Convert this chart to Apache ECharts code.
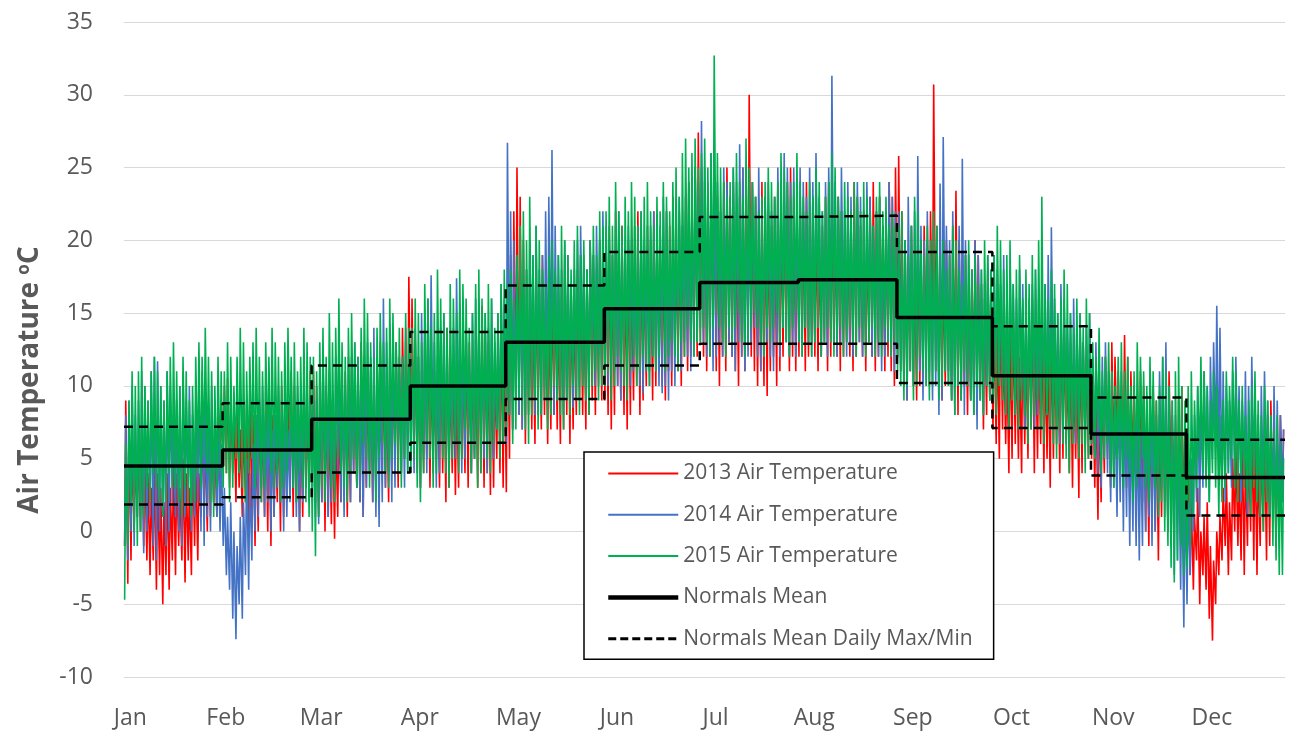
<!DOCTYPE html>
<html>
<head>
<meta charset="utf-8">
<script src="https://cdn.jsdelivr.net/npm/echarts@6/dist/echarts.min.js"></script>
<style>
  html, body { margin: 0; padding: 0; background: #fff; }
  #chart { width: 1293px; height: 736px; }
</style>
</head>
<body>
<div id="chart"></div>
<script>
// Month tick labels and their day-of-year positions
const months = ['Jan','Feb','Mar','Apr','May','Jun','Jul','Aug','Sep','Oct','Nov','Dec'];
const labelDays = [2, 32, 62, 93, 124, 155, 186, 217, 248, 279, 311, 342];
const monthStart = [0, 31, 59, 90, 120, 151, 181, 212, 243, 273, 304, 334, 365];

// Climate normals per month (°C)
const normalsMean = [4.5, 5.6, 7.7, 10.0, 13.0, 15.3, 17.1, 17.3, 14.7, 10.7, 6.7, 3.7];
const normalsMax  = [7.2, 8.8, 11.4, 13.7, 16.9, 19.2, 21.6, 21.7, 19.2, 14.1, 9.2, 6.3];
const normalsMin  = [1.85, 2.35, 4.05, 6.1, 9.1, 11.4, 12.9, 12.9, 10.2, 7.1, 3.85, 1.1];

// Daily highs / lows, one row per month
const hi2013 = [
  9,7,6,5,6,7,5,4,3,5,4,3,2,4,3,5,4,3,5,4,3,6,5,4,7,6,8,7,6,8,9,
  10,10.5,9,8,9,7,8,9,10,8,7,9,8,10,9,8,7,9,10,8,9,11,10,9,8,10,9,11,
  11,10,9,12,10,8,9,7,8,10,11,9,12,10,11,13,12,10,11,9,12,13,11,10,12,11,13,12,14,13,17.5,
  16,13,12,11,13,14,12,10,11,13,12,14,11,12,10,13,12,14,13,11,12,14,15.5,14,13,12,11,13,15,14,
  16,19,22,25,23,20,18,17,16,18,17,19,16,15,17,18,16,17,19,18,17,16,18,19,17,18,20,19,18,20,19,
  20,21,19,22,20,21,19,20,18,21,22,20,19,21,20,22,21,19,20,22,21,23,20,22,21,23,24,22,25,27.4,
  25,24,23,24,25,23,22,24,25,23,24,22,23,25,25,30,24,23,22,24,23,22,21,23,24,22,23,24,25,23,22,
  23,22,24,21,23,22,20,21,23,24,22,21,23,22,20,21,22,24,23,21,22,20,23,24,22,23,21,22,24,23,25,
  25.8,22,20,19,21,18,20,19,21,20,22,30.7,21,19,18,20,19,21,23.4,20,18,19,17,18,20,19,17,16,18,17,
  15,14,16,13,12,14,15,13,12,14,13,15,16,14,13,15,12,13,14,12,13,15,14,12,13,11,12,14,13,12,11,
  11,10,9,10,12,11,13,12,11,10,13.5,12,11,10,9,11,10,9,8,10,9,8,10,9,11,8,7,9,10,8,
  4,2,1,3,0,1,2,-1,-2,0,1,3,4,2,5,6,4,7,5,6,8,7,5,6,7,8,9,7,6,8,7
];
const lo2013 = [
  -1,-3.6,-2,0,1,0,-1,-2,-3,-2,-4,-3,-5,-3,-4,-2,-3,-1,-2,-3.5,-2,-3,-1,-2,1,2,0,1,2,1,3,
  5,4,3,4,2,3,1,2,0,1,-1,0,2,1,0,-1,1,2,0,1,2,3,1,2,0,1,3,2,
  3,2,1,2,0,1,0.5,-0.5,1,2,3,1,2,4,3,2,1,3,4,2,3,5,4,3,2,4,5,3,4,5,6,
  6,5,4,3,4,5,3,4,5,3,4,2,3,4,2.5,3,5,4,3,4,5,3,4,3,4,2.5,3,5,4,3,
  2.7,5,7,9,8,7,6,8,7,6,8,7,8,6,7,8,7,6,7,8,6,7,8,9,8,7,8,9,8,10,9,
  9,8,7,8,10,9,8,7,8,9,10,8,9,10,11,9,10,11,10,9,11,10,12,11,10,12,11,12,13,12,
  13,12,11,12,13,11,10,12,11,13,12,11,10,12,11,13,12,11,10,11,10,9.3,11,12,10,11,12,13,11,12,11,
  12,13,11,12,13,12,11,12,13,11,12,13,12,11,12,13,12,11,12,13,12,11,13,12,11,12,13,11,12,11,10,
  12,11,10,9,11,10,9,10,11,12,10,13,11,10,9,10,11,9,10,8,9,10,8,9,10,8,9,7,8,9,
  7,6,5,7,6,4,5,6,5,4,6,5,7,4,5,6,4,5,3,5,6,4,5,6,4,3,5,2.3,4,6,5,
  5,3,0.8,2,4,5,3,4,6,5,4,3,2,4,3,1,2,0,-1,1,0,-2,1,2,0,3,2,1,2,0,
  -1,-3,-4,-2,-5,-3,-4,-6,-7.5,-5,-3,-2,-1,-3,-2,0,-1,-2,-3,-1,0,-2,-3,-1,0,-2,-1,1,-1,0,2
];
const hi2014 = [
  8,9,10,8,9,11,10,9,11,12,11.7,10,9,11,10,8,9,10,11,9,10,8,9,10,11,9,8,10,9,7,6,
  3,1,2,0,-1,1,2,5,4,6,8,9,10,8,9,7,8,10,9,8,7,9,8,10,9,11,10,9,
  10,9,11,12,10,11,9,12,13,11,10,12,11,13,12,10,11,13,12,14,12,11,16,13,12,14,13,11,12,14,13,
  13,14,12,15,14,16,17.6,13,12,14,15,13,12,14,17.4,15,13,14,12,15,16,14,13,15,14,16,13,15,17,16,
  26.7,22,20,18,19,17,18,20,19,21,18,19,22,23,26.2,21,19,18,20,19,17,18,20,21,19,18,20,19,21,20,22,
  21,20,19,21,22,20,19,21,20,18,21,22,20,19,21,22,20,21,23,22,20,21,22,23,21,22,24,23,25,24,
  28.2,25,24,26,23,24,22,25,24,23,25,24,26.6,25,23,22,24,23,25,22,23,24,22,23,25,24,26,25,24,25,23,
  25,24,23,25,24,26,23,22,24,25,31.3,24,23,25,22,24,23,21,24,23,22,24,23,21,22,23,21,22,24,23,22,
  22,21,20,23,21,22,25.8,21,20,22,19,21,20,23.9,27.1,21,20,22,19,21,25.6,20,19,18,20,19,18,17,19,18,
  19,18,17,19,16,18,17,16,18,17,15,16,17,18,16,15,17,19,20.9,16,15,17,16,14,15,16,14,15,13,14,15,
  12,13,11,12,13,10,11,9,10,11,9,10,8,9,8,7,9,8,10,9,8,11,12,13,10,9,8,6,4,3,
  2,5,8,10,9,11,10,12,13,15.5,14,11,10,9,11,12,10,9,11,10,12,9,8,10,11,9,8,10,9,8,7
];
const lo2014 = [
  -1,-2,0,-1,1,0,-1.5,0,1,-1,-2,0,1,-1,0,2,1,0,-1,1,2,0,1,2,0,-1,1,0,2,1,0,
  -1,-3,-4,-6,-7.4,-5,-6,-3,-4,-2,0,1,3,1,2,0,1,3,2,0,1,2,3,1,0,2,3,4,
  2,1,0.5,2,3,1,2,3,4,2,1,3,2,4,3,2,1,3,4,2,1,0.3,2,3,4,2,3,5,4,3,4,
  5,4,6,3,5,4,6,5,3,4,6,5,4,5,5,6,4,5,6,4,5,7,6,5,4,6,5,7,6,8,
  6,8,7,9,8,7,8,9,10,8,9,8,10,9,11,8,9,10,8,9,10,8.5,9,10,11,9,10,11,10,12,11,
  11,10,12,11,10,9,11,12,10,11,12,10,9.5,11,10,12,11,10,9.5,10,9,11,10,12,11,13,12,11,12,13,
  14,13,12,13,11,12,13,12,14,13,12,11,13,12,11,12,13,14,12,11,12,13,12,11,13,12,14,13,12,13,12,
  13,12,14,13,12,13,14,12,13,12,14,13,12,13,14,12,13,12,14,13,12,13,14,12,13,12,11,12,13,12,11,
  12,11,10,9,11,10,12,11,9,10,11,9,10,8,9,11,10,9,8,10,9,8,10,9,8,7,9,8,10,9,
  10,9,11,10,8,9,10,8,9,10,7,8,9,7,8,9,10,8,7,9,8,6,7,8,9,7,6,8,7,6,7,
  6,5,4,3,5,4,2,3,1,2,0,1,-1,0,-1,-2,-1,0,1,-1,0,2,3,1,0,-1,-3,-2,-4,-6.6,
  -5,-3,0,2,1,3,4,2,5,6,4,3,2,4,3,5,4,2,3,1,2,4,3,1,2,3,1,2,0,1,2
];
const hi2015 = [
  6,9,11,10,11,12,10,9,11,12,11,10,9,11,12,13,11,10,12,11,9,10,12,13,12,14,12,11,10,12,11,
  11,13,12,10,12,14,13,11,12,13,14,12,11,13,12,14,13,12,11,13,14,12,13,11,12,14,13,12,
  12,11,13,14,12,15,13,14,16,13,12,14,15,13,12,14,16,15,13,12,14,15,13,14,16,15,13,14,12,15,14,
  14,16,15,13,17,16,14,15,18,16,15,14,17,16,15,18,17,16,14,15,17,18,16,15,17,16,14,15,17,18,
  17,18,16,19,21,22,20,23,19,21,20,18,17,19,20,18,19,21,20,19,18,20,21,19,20,18,20,21,19,22,21,
  22,23,21,24,22,21,23,22,24,23,21,22,23,24,22,21,23,22,24,23,22,24,25,23,26,27,25,26,27,25,
  26,27,25,26,32.7,26,25,24,23,24,25,26,24,23,27,25,24,23,22,23,24,25,24,23,24,26,25,24,23,24,26,
  24,23,22,24,23,25,24,22,23,24,26,25,23,22,24,23,22,24,23,22,24,23,22,21,23,24,22,23,21,22,21,
  21,22,20,19,21,23,22,20,19,21,20,22,21,19,20,18,19,21,20,18,17,19,20,18,19,17,18,20,19,18,
  19,21,20,18,19,20,17,18,19,16,18,17,19,18,20,23,17,16,18,17,15,16,18,17,15,14,16,15,14,16,15,
  13,12,14,11,12,13,11,10,12,13,11,12,10,11,13,12,11,10,12,11,9,10,12,11,10,9,11,12,10,9,
  10,11,9,10,12,11,10,9,11,10,8,9,11,10,12,11,9,10,8,9,10,11,9,8,10,9,8,7,8,6,5
];
const lo2015 = [
  -4.7,-1,2,0,-1,0,1,3,2,4,3,2,1,2,4,3,3,2,1,3,2,1,2,4,3,5,4,2,1,3,4,
  3,4,2,3,5,4,3,2,4,5,3,4,2,3,5,4,3,4,2,3,4,5,3,2,4,3,2,1,
  0,-1.7,1,3,2,4,3,2,5,4,3,2,4,5,3,4,6,5,3,4,2,5,6,4,3,5,6,4,3,5,4,
  4,5,3,2,4,6,5,3,4,6,5,4,3,5,6,4,5,7,6,4,5,3,4,6,5,4,6,7,5,6,
  7,8,6,7,9,8,7,6,8,9,7,8,9,7,8,10,9,8,7,9,8,10,9,8,10,9,8,10,11,9,10,
  10,11,9,10,12,11,10,9,11,12,10,11,12,11,10,12,11,12,13,11,12,13,12,11,13,12,14,13,12,13,
  13,14,13,12,14,15,14,13,12,14,13,14,15,13,12,13,14,15,14,13,12,14,13,14,15,13,14,13,12,14,15,
  13,12,14,13,12,13,14,12,13,14,13,12,13,14,12,13,14,13,12,14,13,12,13,14,12,13,12,14,13,12,13,
  11,10,9,10,11,9,10,12,11,10,9,10,11,9,10,11,10,9,8,10,9,11,10,9,8,10,9,8,10,9,
  9,8,10,9,8,7,9,8,7,9,8,6,7,8,9,7,6,8,7,6,5,7,6,5,4,6,7,5,6,4,5,
  6,5,7,4,5,6,4,3,5,4,3,5,4,2,3,4,5,3,2,4,3,1,2,0,-1,-2.5,-3.5,-2,-1,-3,
  -2.5,-1,1,3,5,4,3,2,4,3,1,2,3,4,5,3,2,4,3,2,1,3,2,1,0,2,1,-1,-2,-3,-3
];

const FONT = '"Open Sans", "Noto Sans", sans-serif';
const TEXT = '#595959';

// Each day: overnight low early, afternoon high later, drawn as one continuous trace
function dailyTrace(hi, lo) {
  const pts = [];
  for (let d = 0; d < hi.length; d++) {
    pts.push([d + 0.2, lo[d]]);
    pts.push([d + 0.55, hi[d]]);
  }
  return pts;
}

// Monthly step line spanning each month
function monthlySteps(vals) {
  const pts = [];
  for (let m = 0; m < vals.length; m++) {
    pts.push([monthStart[m], vals[m]]);
    pts.push([monthStart[m + 1], vals[m]]);
  }
  return pts;
}

function tempSeries(name, color, hi, lo) {
  return {
    name, type: 'line', data: dailyTrace(hi, lo),
    symbol: 'none', showSymbol: false, silent: true,
    lineStyle: { color, width: 1.6 }, itemStyle: { color },
    sampling: null, z: 2
  };
}
function normalSeries(name, vals, width, type) {
  return {
    name, type: 'line', data: monthlySteps(vals),
    symbol: 'none', showSymbol: false, silent: true,
    lineStyle: { color: '#000', width, type },
    itemStyle: { color: '#000' }, z: 3
  };
}

const chart = echarts.init(document.getElementById('chart'), null, { renderer: 'canvas' });
chart.setOption({
  animation: false,
  backgroundColor: '#fff',
  grid: { left: 124, right: 8, top: 22, bottom: 59, containLabel: false },
  xAxis: {
    type: 'value', min: 0, max: 365,
    axisLine: { show: false }, axisTick: { show: false }, splitLine: { show: false },
    axisLabel: {
      customValues: labelDays,
      formatter: v => months[labelDays.indexOf(v)] || '',
      fontFamily: FONT, fontSize: 23, color: TEXT, margin: 30
    }
  },
  yAxis: {
    type: 'value', min: -10, max: 35, interval: 5,
    axisLine: { show: false }, axisTick: { show: false },
    splitLine: { lineStyle: { color: '#d9d9d9', width: 1.2 } },
    axisLabel: { fontFamily: FONT, fontSize: 23, color: TEXT, margin: 31 }
  },
  legend: {
    orient: 'vertical', left: 584, top: 452,
    padding: [11, 21, 10, 22],
    itemWidth: 70, itemHeight: 14, itemGap: 20.3,
    itemStyle: { opacity: 0 },
    borderColor: '#000', borderWidth: 1.5, backgroundColor: '#fff',
    textStyle: { fontFamily: FONT, fontSize: 21, color: TEXT, lineHeight: 20 },
    selectedMode: false,
    data: [
      { name: '2013 Air Temperature', lineStyle: { width: 2 } },
      { name: '2014 Air Temperature', lineStyle: { width: 2 } },
      { name: '2015 Air Temperature', lineStyle: { width: 2 } },
      { name: 'Normals Mean', lineStyle: { width: 4.5 } },
      { name: 'Normals Mean Daily Max/Min', lineStyle: { width: 3, type: [8, 4] } }
    ]
  },
  graphic: [{
    type: 'text', x: 30, y: 380, rotation: Math.PI / 2,
    style: {
      text: '{a|Air Temperature }{s|o}{a|C}',
      align: 'center', verticalAlign: 'middle',
      rich: {
        a: { fontFamily: FONT, fontSize: 28, fontWeight: 'bold', fill: TEXT, color: TEXT },
        s: { fontFamily: FONT, fontSize: 17, fontWeight: 'bold', fill: TEXT, color: TEXT, verticalAlign: 'top' }
      }
    }
  }],
  series: [
    tempSeries('2013 Air Temperature', '#ff0000', hi2013, lo2013),
    tempSeries('2014 Air Temperature', '#4472c4', hi2014, lo2014),
    tempSeries('2015 Air Temperature', '#00b050', hi2015, lo2015),
    normalSeries('Normals Mean', normalsMean, 3.5, 'solid'),
    normalSeries('Normals Mean Daily Max/Min', normalsMax, 2.5, [9, 6]),
    normalSeries('Normals Mean Daily Max/Min', normalsMin, 2.5, [9, 6])
  ]
});
</script>
</body>
</html>
